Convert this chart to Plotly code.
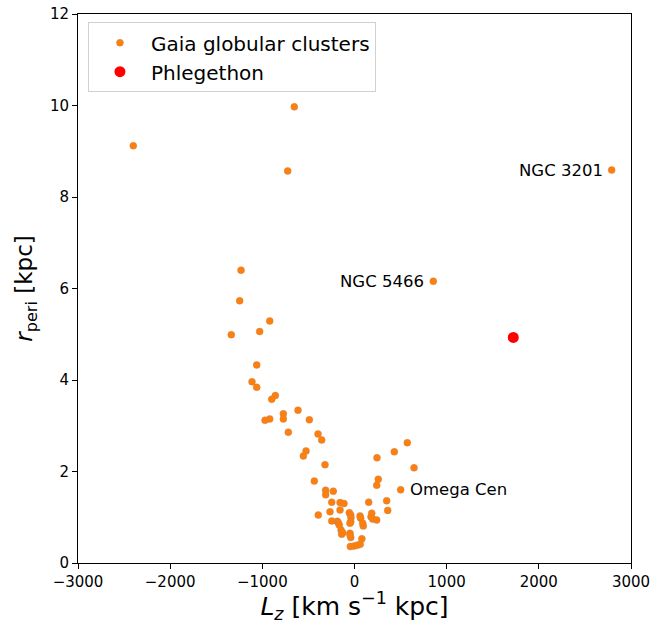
import plotly.graph_objects as go

# Gaia globular clusters: L_z [km s^-1 kpc], r_peri [kpc]
gc_lz = [-2400, -653, -725, 2790, 855,
         -1231, -1246, -920, -1029, -1337, -1061, -1112, -1061, -859, -898,
         -613, -772, -772, -920, -971, -490, -718, -396, -356, -526, -555,
         -320, -436, -313, -230, -313, -393,
         -247, -157, -114, -266, -157, -56, -41, -38, 60, 67, -247, -187,
         -176, -165, -41, -49, 95, 89, 179, 187, 197, 241, 154, -146, -139,
         -128, -49, -41, -49, 80, -45, -5, 30, 62,
         349, 360, 241, 258, 244, 432, 573, 646, 501]
gc_rperi = [9.12, 9.97, 8.57, 8.59, 6.16,
            6.40, 5.73, 5.29, 5.06, 4.99, 4.33, 3.96, 3.84, 3.66, 3.58,
            3.34, 3.26, 3.15, 3.15, 3.12, 3.13, 2.86, 2.82, 2.69, 2.45, 2.34,
            2.15, 1.79, 1.59, 1.57, 1.49, 1.05,
            1.33, 1.32, 1.30, 1.12, 1.16, 1.10, 1.05, 0.99, 1.03, 0.98, 0.92, 0.91,
            0.88, 0.83, 0.90, 0.87, 0.81, 0.87, 1.01, 1.09, 0.96, 0.94, 1.33, 0.72, 0.63,
            0.66, 0.65, 0.56, 0.61, 0.53, 0.36, 0.37, 0.39, 0.41,
            1.36, 1.15, 1.70, 1.83, 2.30, 2.43, 2.63, 2.08, 1.60]

# Phlegethon
phl_lz = [1723]
phl_rperi = [4.93]

# Labelled clusters
label_names = ["NGC 3201", "NGC 5466", "Omega Cen"]
label_lz = [2790, 855, 501]
label_rperi = [8.59, 6.16, 1.60]
label_side = ["left", "left", "right"]

FONT = "DejaVu Sans, Liberation Sans, sans-serif"

fig = go.Figure()
fig.add_trace(go.Scatter(
    x=gc_lz, y=gc_rperi, mode="markers", name="Gaia globular clusters",
    marker=dict(color="#ff7f0e", size=7, line=dict(width=0.4, color="#c0844a")),
))
fig.add_trace(go.Scatter(
    x=phl_lz, y=phl_rperi, mode="markers", name="Phlegethon",
    marker=dict(color="#ff0000", size=11, line=dict(width=0)),
))

for name, lx, ly, side in zip(label_names, label_lz, label_rperi, label_side):
    fig.add_annotation(
        x=lx, y=ly, xref="x", yref="y", text=name, showarrow=False,
        xanchor="right" if side == "left" else "left",
        xshift=-7 if side == "left" else 7, yanchor="middle",
        font=dict(family=FONT, size=16.5, color="black"),
    )

axis_common = dict(
    showgrid=False, zeroline=False, showline=True, linecolor="black", linewidth=1,
    mirror=True, ticks="outside", ticklen=5, tickwidth=1, tickcolor="black",
    tickfont=dict(family=FONT, size=15, color="black"),
    automargin=False,
)

fig.update_xaxes(
    range=[-3000, 3000], tickvals=[-3000, -2000, -1000, 0, 1000, 2000, 3000],
    ticktext=["\u22123000", "\u22122000", "\u22121000", "0", "1000", "2000", "3000"],
    title=dict(text="<i>L</i><sub><i>z</i></sub> [km s<sup>\u22121</sup> kpc]",
               font=dict(family=FONT, size=25, color="black"), standoff=4),
    **axis_common,
)
fig.update_yaxes(
    range=[0, 12], tickvals=[0, 2, 4, 6, 8, 10, 12],
    title=dict(text="<i>r</i><sub>peri</sub> [kpc]",
               font=dict(family=FONT, size=23, color="black"), standoff=10),
    **axis_common,
)

fig.update_layout(
    width=665, height=624,
    margin=dict(l=78, r=34, t=14, b=61),
    plot_bgcolor="white", paper_bgcolor="white",
    font=dict(family=FONT, color="black"),
    legend=dict(
        x=0.018, y=0.985, xanchor="left", yanchor="top",
        bgcolor="rgba(255,255,255,0.8)", bordercolor="#d0d0d0", borderwidth=1,
        font=dict(family=FONT, size=20, color="black"),
        itemsizing="trace", itemwidth=52,
    ),
    showlegend=True,
)

fig.write_html("out.html", config={"displayModeBar": False},
               post_script="document.body.style.margin='0';")
